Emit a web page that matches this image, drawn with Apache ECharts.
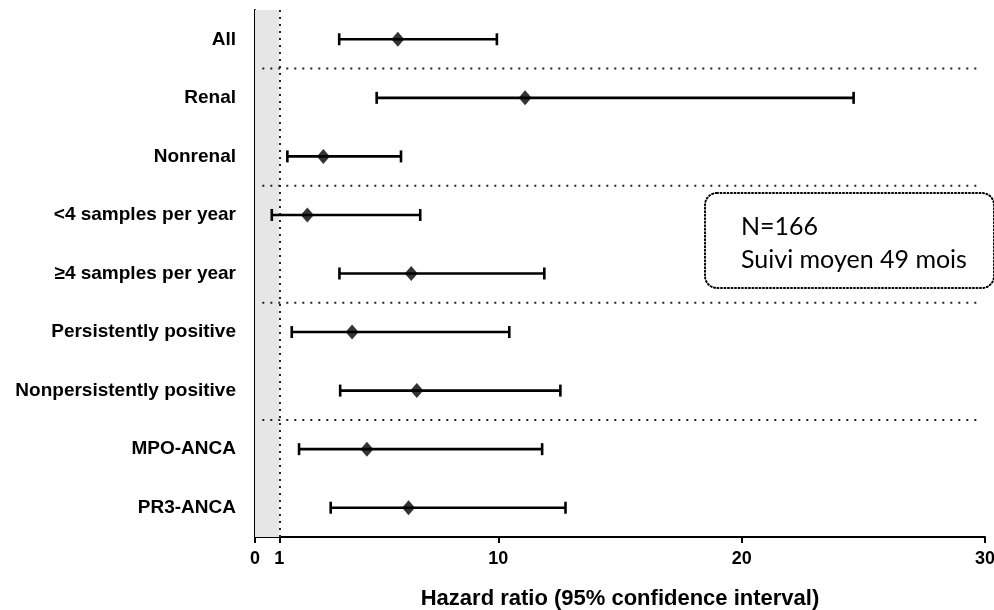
<!DOCTYPE html>
<html>
<head>
<meta charset="utf-8">
<script src="https://cdn.jsdelivr.net/npm/echarts@6/dist/echarts.min.js"></script>
<style>html,body{margin:0;padding:0;background:#fff}#c{width:994px;height:610px}</style>
</head>
<body>
<div id="c"></div>
<script>
var categories = ['All', 'Renal', 'Nonrenal', '<4 samples per year', '\u22654 samples per year',
  'Persistently positive', 'Nonpersistently positive', 'MPO-ANCA', 'PR3-ANCA'];
var hazardRatio = [5.87, 11.1, 2.81, 2.15, 6.42, 3.99, 6.65, 4.6, 6.31];
var ciLower = [3.46, 5.0, 1.33, 0.69, 3.47, 1.51, 3.5, 1.81, 3.11];
var ciUpper = [9.94, 24.6, 6.0, 6.79, 11.89, 10.45, 12.55, 11.8, 12.76];
var xTicks = [0, 1, 10, 20, 30];
var groupBreaksAfter = [0, 2, 4, 6];
var refValue = 1;
var noteLines = ['N=166', 'Suivi moyen 49 mois'];

var ciData = categories.map(function (c, i) { return [i, ciLower[i], ciUpper[i]]; });
var pointData = categories.map(function (c, i) { return [hazardRatio[i], i]; });

var sepSeries = groupBreaksAfter.map(function (k, j) {
  var s = {
    type: 'line', xAxisIndex: 0, yAxisIndex: 1, symbol: 'none', silent: true,
    data: [[0.3, k + 0.5], [29.8, k + 0.5]],
    lineStyle: { color: '#222', width: 2, type: [2, 6] },
    z: 3
  };
  if (j === 0) {
    s.markArea = { silent: true, itemStyle: { color: '#e6e6e6' }, data: [[{ xAxis: 0 }, { xAxis: refValue }]], z: 1 };
    s.markLine = { silent: true, symbol: 'none', label: { show: false },
      lineStyle: { color: '#222', width: 2, type: [2, 5] }, data: [{ xAxis: refValue }] };
  }
  return s;
});

var chart = echarts.init(document.getElementById('c'));
chart.setOption({
  animation: false,
  grid: { left: 255, right: 9, top: 10, bottom: 73, containLabel: false, outerBoundsMode: 'none' },
  xAxis: {
    type: 'value', min: 0, max: 30,
    axisLine: { onZero: false, lineStyle: { color: '#000', width: 2 } },
    axisTick: { show: true, customValues: xTicks, length: 6, lineStyle: { color: '#000', width: 2 } },
    axisLabel: { customValues: xTicks, color: '#000', fontFamily: 'Liberation Sans', fontWeight: 'bold', fontSize: 18, margin: 13 },
    splitLine: { show: false },
    name: 'Hazard ratio (95% confidence interval)', nameLocation: 'middle', nameGap: 51,
    nameTextStyle: { color: '#000', fontFamily: 'Liberation Sans', fontWeight: 'bold', fontSize: 22 }
  },
  yAxis: [{
    type: 'category', inverse: true, data: categories,
    axisLine: { onZero: false, lineStyle: { color: '#000', width: 2 } },
    axisTick: { alignWithLabel: true, length: 7, lineStyle: { color: '#000', width: 2 } },
    axisLabel: { color: '#000', fontFamily: 'Liberation Sans', fontWeight: 'bold', fontSize: 19, margin: 19 },
    splitLine: { show: false }
  }, {
    type: 'value', inverse: true, min: -0.5, max: 8.5, show: false
  }],
  series: sepSeries.concat([{
    type: 'custom', xAxisIndex: 0, yAxisIndex: 0, data: ciData, z: 5,
    encode: { x: [1, 2], y: 0 },
    renderItem: function (params, api) {
      var a = api.coord([api.value(1), api.value(0)]);
      var b = api.coord([api.value(2), api.value(0)]);
      var h = 6;
      var st = { stroke: '#000', lineWidth: 2.6 };
      return { type: 'group', children: [
        { type: 'line', shape: { x1: a[0], y1: a[1], x2: b[0], y2: b[1] }, style: st },
        { type: 'line', shape: { x1: a[0], y1: a[1] - h, x2: a[0], y2: a[1] + h }, style: st },
        { type: 'line', shape: { x1: b[0], y1: b[1] - h, x2: b[0], y2: b[1] + h }, style: st }
      ] };
    }
  }, {
    type: 'scatter', xAxisIndex: 0, yAxisIndex: 0, data: pointData, z: 6,
    symbol: 'diamond', symbolSize: [13, 15], itemStyle: { color: '#000' }
  }]),
  graphic: [{
    type: 'rect', shape: { x: 705, y: 193, width: 289, height: 95, r: 12 },
    style: { fill: 'none', stroke: '#000', lineWidth: 2, lineDash: [1, 2.5], lineCap: 'round' }, z: 10
  }, {
    type: 'text', left: 741, top: 214,
    style: { text: noteLines[0], font: '25px Lato', fill: '#000' }, z: 10
  }, {
    type: 'text', left: 741, top: 247,
    style: { text: noteLines[1], font: '25px Lato', fill: '#000' }, z: 10
  }]
});
</script>
</body>
</html>
